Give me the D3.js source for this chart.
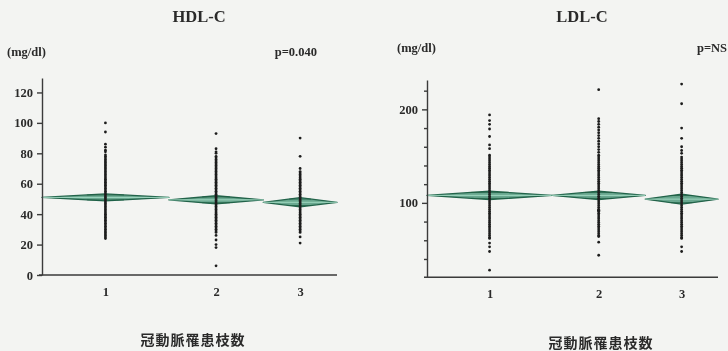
<!DOCTYPE html>
<html lang="ja">
<head>
<meta charset="UTF-8">
<title>HDL-C / LDL-C</title>
<script src="https://d3js.org/d3.v7.min.js"></script>
<style>
  html, body { margin: 0; padding: 0; background: #f3f4f2; }
  svg { display: block; }
  .serif { font-family: "Liberation Serif", "DejaVu Serif", serif; font-weight: bold; fill: #2b2b2b; }
  .cjk { font-family: "Noto Sans CJK JP", sans-serif; font-weight: bold; fill: #2b2b2b; }
  .axis path, .axis line { stroke: #3a3a3a; stroke-width: 1.4; }
  .axis text { font-family: "Liberation Serif", serif; font-weight: bold; font-size: 12.5px; fill: #2b2b2b; }
</style>
</head>
<body>
<svg width="728" height="351"></svg>
<script>
// groups: number of coronary vessels affected
const categories = ['1', '2', '3'];
const groupN = [86, 64, 50];

// HDL-C (mg/dl)
const hdlValues = [
  [100, 94, 86, 84, 82, 81, 79, 78, 77, 76, 75, 74, 73, 72, 71, 70, 69, 68, 67, 66, 65, 64, 63, 62, 61, 60, 59, 58, 57, 56, 55, 54, 53, 52, 51, 50, 49, 48, 47, 46, 45, 44, 43, 42, 41, 40, 39, 38, 37, 36, 35, 34, 33, 32, 31, 30, 29, 28, 27, 26, 25, 24],
  [93, 83, 81, 80, 78, 77, 76, 75, 74, 73, 72, 71, 70, 69, 68, 67, 66, 65, 64, 63, 62, 61, 60, 59, 58, 57, 56, 55, 54, 53, 52, 51, 50, 49, 48, 47, 46, 45, 44, 43, 42, 41, 40, 39, 38, 37, 36, 35, 34, 33, 32, 31, 30, 29, 28, 26, 23, 20, 18, 6],
  [90, 78, 70, 68, 67, 66, 65, 64, 63, 62, 61, 60, 59, 58, 57, 56, 55, 54, 53, 52, 51, 50, 49, 48, 47, 46, 45, 44, 43, 42, 41, 40, 39, 38, 37, 36, 35, 34, 33, 32, 31, 30, 29, 28, 25, 21]
];
const hdlMeans = [51, 49.4, 47.8];
const hdlCI = [2.3, 2.7, 3.0];
const hdlTicks = [0, 20, 40, 60, 80, 100, 120];

// LDL-C (mg/dl)
const ldlValues = [
  [194, 188, 184, 179, 171, 162, 158, 151, 149, 147, 145, 143, 141, 139, 137, 135, 133, 131, 129, 127, 125, 123, 121, 119, 117, 115, 113, 111, 109, 107, 105, 103, 101, 99, 97, 95, 93, 91, 89, 87, 85, 83, 81, 79, 77, 75, 73, 71, 69, 67, 65, 63, 62, 57, 53, 48, 28],
  [221, 190, 187, 184, 181, 178, 175, 172, 169, 166, 163, 160, 157, 154, 151, 149, 147, 145, 143, 141, 139, 137, 135, 133, 131, 129, 127, 125, 123, 121, 119, 117, 115, 113, 111, 109, 107, 105, 103, 101, 99, 97, 95, 93, 92, 92, 91, 89, 87, 85, 83, 81, 79, 77, 75, 73, 71, 69, 67, 65, 64, 58, 44],
  [227, 206, 180, 169, 160, 156, 153, 149, 147, 145, 143, 141, 139, 137, 135, 133, 131, 129, 127, 125, 123, 121, 119, 117, 115, 113, 111, 109, 107, 105, 103, 101, 99, 97, 95, 93, 91, 89, 87, 85, 83, 81, 79, 77, 75, 73, 71, 69, 67, 65, 63, 62, 53, 48]
];
const ldlMeans = [108, 108, 104];
const ldlCI = [4.5, 4.5, 5.4];
const ldlTicks = [100, 200];
const ldlMinorTicks = [40, 60, 80, 120, 140, 160, 180, 220];

const xTitle = '冠動脈罹患枝数';

const svg = d3.select('svg');

// slight softening, like the scanned original
svg.append('defs').append('filter').attr('id', 'soft')
  .append('feGaussianBlur').attr('stdDeviation', 0.35);

function drawPanel(p) {
  const g = svg.append('g').attr('filter', 'url(#soft)');

  const total = d3.sum(groupN);
  const x = d3.scaleLinear().domain([0, total]).range(p.xRange);
  const y = d3.scaleLinear().domain(p.yDomain).range(p.yRange);

  // group spans proportional to n (JMP style)
  let cum = 0;
  const groups = groupN.map((n, i) => {
    const grp = { cat: categories[i], start: cum, mid: cum + n / 2, end: cum + n,
                  mean: p.means[i], ci: p.ci[i], values: p.values[i] };
    cum += n;
    return grp;
  });

  // means diamonds
  const dg = g.append('g');
  groups.forEach(d => {
    const x0 = x(d.start), x1 = x(d.end), xc = x(d.mid);
    dg.append('polygon')
      .attr('points', [[x0, y(d.mean)], [xc, y(d.mean + d.ci)], [x1, y(d.mean)], [xc, y(d.mean - d.ci)]].join(' '))
      .attr('fill', '#5a9f84')
      .attr('fill-opacity', 0.9)
      .attr('stroke', '#21634a')
      .attr('stroke-width', 1.3)
      .attr('stroke-linejoin', 'round');
    dg.append('line')
      .attr('x1', x0).attr('x2', x1)
      .attr('y1', y(d.mean)).attr('y2', y(d.mean))
      .attr('stroke', '#a6dcc6').attr('stroke-width', 0.9);
    // overlap marks
    const off = d.ci / Math.SQRT2;
    const hw = (x1 - x0) * (1 - 1 / Math.SQRT2) / 2;
    [d.mean + off, d.mean - off].forEach(v => {
      dg.append('line')
        .attr('x1', xc - hw).attr('x2', xc + hw)
        .attr('y1', y(v)).attr('y2', y(v))
        .attr('stroke', '#1f5e43').attr('stroke-width', 0.8);
    });
  });

  // data points
  groups.forEach(d => {
    g.append('g').selectAll('circle')
      .data(d.values)
      .join('circle')
      .attr('cx', x(d.mid))
      .attr('cy', v => y(v))
      .attr('r', 1.4)
      .attr('fill', '#1f1f1f');
  });

  // y axis
  g.append('g')
    .attr('class', 'axis')
    .attr('transform', `translate(${p.xRange[0]},0)`)
    .call(d3.axisLeft(y).tickValues(p.ticks).tickSize(5).tickSizeOuter(0).tickPadding(4));

  if (p.minorTicks) {
    g.append('g')
      .attr('class', 'axis')
      .attr('transform', `translate(${p.xRange[0]},0)`)
      .call(d3.axisLeft(y).tickValues(p.minorTicks).tickSize(3).tickSizeOuter(0).tickFormat(''))
      .select('.domain').remove();
  }

  // x axis
  const xa = g.append('g')
    .attr('class', 'axis')
    .attr('transform', `translate(0,${p.yRange[0]})`)
    .call(d3.axisBottom(x)
      .tickValues(groups.map(d => d.mid))
      .tickFormat((d, i) => categories[i])
      .tickSize(0).tickSizeOuter(0).tickPadding(12));
  xa.select('.domain').attr('d', `M${p.xRange[0] - 3},0H${p.xRange[1]}`);

  // texts
  g.append('text').attr('class', 'serif')
    .attr('x', p.titleX).attr('y', 22)
    .attr('text-anchor', 'middle').style('font-size', '16.5px')
    .text(p.title);
  g.append('text').attr('class', 'serif')
    .attr('x', p.unitX).attr('y', p.unitY)
    .style('font-size', '12.5px')
    .text('(mg/dl)');
  g.append('text').attr('class', 'serif')
    .attr('x', p.pX).attr('y', p.unitY)
    .attr('text-anchor', 'end')
    .style('font-size', '12.5px')
    .text(p.pText);
  g.append('text').attr('class', 'cjk')
    .attr('x', p.xTitleX).attr('y', p.xTitleY)
    .attr('text-anchor', 'middle')
    .style('font-size', '14px')
    .style('letter-spacing', '1px')
    .text(xTitle);
}

drawPanel({
  title: 'HDL-C', titleX: 199,
  pText: 'p=0.040', pX: 317, unitX: 7, unitY: 56,
  xRange: [42, 337], yDomain: [0, 129.5], yRange: [275, 78],
  values: hdlValues, means: hdlMeans, ci: hdlCI, ticks: hdlTicks,
  xTitleX: 193, xTitleY: 345
});

drawPanel({
  title: 'LDL-C', titleX: 582,
  pText: 'p=NS', pX: 727, unitX: 397, unitY: 52,
  xRange: [427, 718], yDomain: [20.4, 231.4], yRange: [277.3, 80],
  values: ldlValues, means: ldlMeans, ci: ldlCI, ticks: ldlTicks, minorTicks: ldlMinorTicks,
  xTitleX: 601, xTitleY: 348
});
</script>
</body>
</html>
